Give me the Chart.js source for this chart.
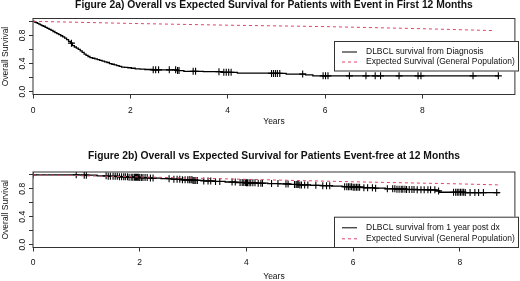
<!DOCTYPE html>
<html><head><meta charset="utf-8">
<script src="https://cdn.jsdelivr.net/npm/chart.js@4/dist/chart.umd.min.js"></script>
<style>
html,body{margin:0;padding:0;background:#fff;overflow:hidden;}
#w1{position:absolute;left:0;top:0;width:520px;height:140px;}
#w2{position:absolute;left:0;top:140px;width:520px;height:141px;}
</style></head><body>
<div id="w1"><canvas id="c1"></canvas></div>
<div id="w2"><canvas id="c2"></canvas></div>
<script>
// ---------- data ----------
const xTicks = [0, 2, 4, 6, 8];
const yTicks = [0, 0.2, 0.4, 0.6, 0.8, 1.0];
const yTickLabels = ['0.0', '', '0.4', '', '0.8', ''];
const xTitle = 'Years';
const yTitle = 'Overall Survival';
const expLabel = 'Expected Survival (General Population)';

const title1 = 'Figure 2a) Overall vs Expected Survival for Patients with Event in First 12 Months';
const kmLabel1 = 'DLBCL survival from Diagnosis';
const km1T = [0, 0.03, 0.06, 0.09, 0.12, 0.15, 0.18, 0.21, 0.25, 0.29, 0.33, 0.37, 0.41, 0.45, 0.49, 0.53, 0.57, 0.61, 0.65, 0.69, 0.73, 0.77, 0.81, 0.85, 0.89, 0.93, 0.97, 1.01, 1.05, 1.09, 1.13, 1.17, 1.22, 1.27, 1.32, 1.37, 1.42, 1.47, 1.52, 1.57, 1.62, 1.67, 1.72, 1.77, 1.82, 1.88, 1.95, 2.02, 2.1, 2.2, 2.3, 2.45, 2.6, 2.95, 3.1, 3.5, 3.9, 4.2, 4.9, 5.2, 5.6, 5.75, 9.56];
const km1S = [1.0, 0.99, 0.98, 0.97, 0.96, 0.95, 0.94, 0.93, 0.915, 0.90, 0.885, 0.87, 0.855, 0.84, 0.825, 0.81, 0.795, 0.78, 0.76, 0.74, 0.715, 0.69, 0.655, 0.635, 0.62, 0.60, 0.58, 0.56, 0.535, 0.515, 0.50, 0.485, 0.475, 0.465, 0.455, 0.445, 0.435, 0.425, 0.415, 0.40, 0.39, 0.38, 0.37, 0.36, 0.35, 0.345, 0.34, 0.333, 0.325, 0.32, 0.315, 0.31, 0.31, 0.30, 0.29, 0.285, 0.275, 0.265, 0.26, 0.25, 0.24, 0.225, 0.225];
const exp1T = [0, 2, 4, 6, 8, 9.45];
const exp1S = [1.0, 0.97, 0.945, 0.925, 0.895, 0.868];
const cens1T = [0.79, 2.47, 2.52, 2.58, 2.8, 2.93, 2.97, 3.0, 3.29, 3.34, 3.82, 3.92, 3.97, 4.02, 4.07, 4.9, 4.94, 4.98, 5.02, 5.07, 5.54, 5.96, 6.01, 6.06, 6.5, 6.84, 7.03, 7.14, 7.52, 7.91, 7.97, 9.04, 9.56];

const title2 = 'Figure 2b) Overall vs Expected Survival for Patients Event-free at 12 Months';
const kmLabel2 = 'DLBCL survival from 1 year post dx';
const km2T = [0, 0.9, 1.2, 1.4, 1.6, 1.8, 2.0, 2.2, 2.4, 2.6, 2.8, 3.0, 3.2, 3.4, 3.6, 3.8, 4.0, 4.2, 4.4, 4.6, 4.8, 5.0, 5.2, 5.4, 5.6, 5.8, 6.0, 6.2, 6.4, 6.6, 6.8, 7.0, 7.2, 7.4, 7.55, 7.62, 8.1, 8.74];
const km2S = [1.0, 0.995, 0.985, 0.978, 0.972, 0.965, 0.96, 0.953, 0.945, 0.937, 0.928, 0.92, 0.912, 0.905, 0.897, 0.89, 0.885, 0.88, 0.875, 0.87, 0.862, 0.855, 0.85, 0.845, 0.838, 0.83, 0.823, 0.815, 0.808, 0.80, 0.795, 0.79, 0.787, 0.785, 0.77, 0.75, 0.745, 0.745];
const exp2T = [0, 2, 4, 6, 7, 8, 8.74];
const exp2S = [1.0, 0.97, 0.935, 0.90, 0.885, 0.87, 0.855];
const cens2T = [0.0, 0.81, 0.96, 1.0, 1.37, 1.41, 1.45, 1.5, 1.54, 1.58, 1.62, 1.66, 1.7, 1.73, 1.77, 1.8, 1.84, 1.87, 1.9, 1.92, 1.94, 1.96, 1.98, 2.0, 2.03, 2.06, 2.1, 2.14, 2.2, 2.25, 2.55, 2.64, 2.7, 2.75, 2.8, 2.85, 2.9, 2.93, 2.96, 2.98, 3.0, 3.02, 3.05, 3.08, 3.2, 3.28, 3.33, 3.42, 3.5, 3.73, 3.79, 3.88, 3.92, 3.95, 3.98, 4.0, 4.02, 4.05, 4.08, 4.12, 4.16, 4.22, 4.27, 4.3, 4.47, 4.59, 4.74, 4.78, 4.9, 4.93, 4.95, 4.97, 5.0, 5.03, 5.09, 5.15, 5.3, 5.43, 5.5, 5.56, 5.84, 5.88, 5.91, 5.94, 5.97, 6.0, 6.03, 6.06, 6.09, 6.12, 6.2, 6.27, 6.36, 6.42, 6.64, 6.74, 6.78, 6.82, 6.86, 6.9, 6.93, 6.97, 7.0, 7.05, 7.1, 7.14, 7.2, 7.27, 7.33, 7.4, 7.45, 7.53, 7.6, 7.88, 7.92, 7.95, 7.98, 8.01, 8.04, 8.07, 8.1, 8.19, 8.28, 8.35, 8.44, 8.69];

// ---------- helpers ----------
function pts(T, S) { return T.map((t, i) => ({x: t, y: S[i]})); }
function stepAt(T, S, t) { let v = S[0]; for (let i = 0; i < T.length; i++) { if (T[i] <= t) v = S[i]; } return v; }

const FONT = '"Liberation Sans", Arial, Helvetica, sans-serif';
const INK = '#111';
const RED = '#e0456a';

const decor = {
  id: 'decor',
  afterDraw(chart, args, o) {
    const ctx = chart.ctx, a = chart.chartArea;
    const ys = chart.scales.y;
    ctx.save();
    ctx.strokeStyle = '#333'; ctx.lineWidth = 1;
    ctx.strokeRect(a.left, a.top, a.right - a.left, a.bottom - a.top);
    ctx.fillStyle = INK;
    ctx.font = 'bold 10.3px ' + FONT;
    ctx.textAlign = 'center'; ctx.textBaseline = 'middle';
    ctx.fillText(o.title, (a.left + a.right) / 2, o.titleY);
    ctx.font = '8.5px ' + FONT;
    ctx.fillText(xTitle, (a.left + a.right) / 2, o.xTitleY);
    yTicks.forEach((v, i) => {
      if (!yTickLabels[i]) return;
      ctx.save();
      ctx.translate(23, ys.getPixelForValue(v));
      ctx.rotate(-Math.PI / 2);
      ctx.fillText(yTickLabels[i], 0, 0);
      ctx.restore();
    });
    ctx.save();
    ctx.translate(5.5, (a.top + a.bottom) / 2);
    ctx.rotate(-Math.PI / 2);
    ctx.fillText(yTitle, 0, 0);
    ctx.restore();
    const L = o.legend;
    ctx.fillStyle = '#fff';
    ctx.fillRect(L.x0, L.y0, L.x1 - L.x0, L.y1 - L.y0);
    ctx.strokeStyle = '#333';
    ctx.strokeRect(L.x0 + 0.5, L.y0 + 0.5, L.x1 - L.x0 - 1, L.y1 - L.y0 - 1);
    const ds = chart.data.datasets;
    [ds[0], ds[1]].forEach((d, i) => {
      const yy = L.y0 + L.rowY[i];
      ctx.strokeStyle = d.borderColor; ctx.lineWidth = 1;
      ctx.setLineDash(d.borderDash || []);
      ctx.beginPath(); ctx.moveTo(L.x0 + 8, yy + 0.5); ctx.lineTo(L.x0 + 23, yy + 0.5); ctx.stroke();
      ctx.setLineDash([]);
      ctx.fillStyle = INK; ctx.textAlign = 'left'; ctx.textBaseline = 'middle';
      ctx.font = '8.5px ' + FONT;
      ctx.fillText(d.label, L.x0 + 32, yy);
    });
    ctx.restore();
  }
};

function makeChart(id, c) {
  return new Chart(document.getElementById(id), {
    type: 'scatter',
    data: {
      datasets: [
        {label: c.kmLabel, data: pts(c.kmT, c.kmS), showLine: true, stepped: 'before',
         borderColor: '#000', borderWidth: 1.3, pointRadius: 0, fill: false, order: 1},
        {label: expLabel, data: pts(c.expT, c.expS), showLine: true, borderColor: RED,
         borderDash: [3, 3], borderWidth: 1, pointRadius: 0, fill: false, order: 0},
        {label: 'censored', data: c.censT.map(t => ({x: t, y: stepAt(c.kmT, c.kmS, t)})),
         showLine: false, pointStyle: 'cross', pointRadius: 3.5, borderColor: '#000',
         borderWidth: 1.1, backgroundColor: '#000', order: 2}
      ]
    },
    options: {
      responsive: true, maintainAspectRatio: false, animation: false, events: [],
      layout: {padding: {top: c.top, right: 2, left: 0, bottom: 0}},
      plugins: {legend: {display: false}, tooltip: {enabled: false}, decor: c.decor},
      scales: {
        x: {type: 'linear', min: 0, max: c.xmax,
            afterBuildTicks: s => { s.ticks = xTicks.map(v => ({value: v})); },
            afterFit: s => { s.height = c.xh; },
            grid: {drawOnChartArea: false, drawTicks: true, tickLength: 4, color: '#333'},
            border: {display: false},
            ticks: {padding: c.tickPad, color: INK, font: {family: FONT, size: 8.5}, maxRotation: 0, autoSkip: false}},
        y: {type: 'linear', min: -0.04, max: 1.04,
            afterBuildTicks: s => { s.ticks = yTicks.map(v => ({value: v})); },
            afterFit: s => { s.width = 33; },
            grid: {drawOnChartArea: false, drawTicks: true, tickLength: 4, color: '#333'},
            border: {display: false},
            ticks: {display: false}}
      }
    },
    plugins: [decor]
  });
}

makeChart('c1', {
  kmLabel: kmLabel1, kmT: km1T, kmS: km1S, expT: exp1T, expS: exp1S, censT: cens1T,
  top: 18.5, xh: 45.5, xmax: 9.9, tickPad: 7.5,
  decor: {title: title1, titleY: 5.5, xTitleY: 121.7,
          legend: {x0: 334, y0: 41, x1: 519, y1: 71.5, rowY: [10.5, 20.5]}}
});
makeChart('c2', {
  kmLabel: kmLabel2, kmT: km2T, kmS: km2S, expT: exp2T, expS: exp2S, censT: cens2T,
  top: 32, xh: 33.5, xmax: 9.03, tickPad: 5.8,
  decor: {title: title2, titleY: 16.3, xTitleY: 136.7,
          legend: {x0: 334, y0: 76.7, x1: 519, y1: 108, rowY: [10.6, 21.6]}}
});
</script>
</body></html>
